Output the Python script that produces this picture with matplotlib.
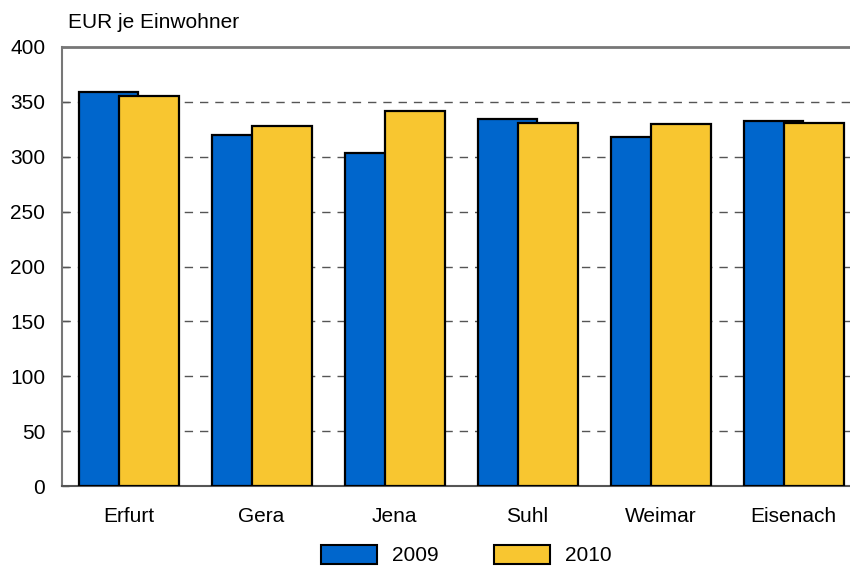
import matplotlib
matplotlib.use("Agg")
import matplotlib.pyplot as plt
import numpy as np
from matplotlib.patches import Patch

plt.rcParams['font.family'] = ['Liberation Sans', 'DejaVu Sans']

cities = ["Erfurt", "Gera", "Jena", "Suhl", "Weimar", "Eisenach"]
v2009 = [359, 320, 303, 334, 318, 333]
v2010 = [355, 328, 342, 331, 330, 331]
years = ["2009", "2010"]
yticks = [0, 50, 100, 150, 200, 250, 300, 350, 400]

c_blue = "#0066CC"
c_yellow = "#F8C630"
fs = 15

fig = plt.figure(figsize=(8.5, 5.67), dpi=100)
ax = fig.add_axes([62/850, 1-486/567, 798/850, (486-47)/567])

x = np.arange(len(cities))
w = 0.45
ax.bar(x - 0.15, v2009, width=w, color=c_blue, edgecolor="black", linewidth=1.6, zorder=3)
ax.bar(x + 0.155, v2010, width=w, color=c_yellow, edgecolor="black", linewidth=1.6, zorder=4)

ax.set_xlim(-0.5, len(cities) - 0.5)
ax.set_ylim(0, 400)
ax.set_yticks(yticks)
ax.set_yticklabels([str(t) for t in yticks], fontsize=fs)
ax.set_xticks(x)
ax.set_xticklabels(cities, fontsize=fs)
ax.tick_params(axis='x', length=0, pad=15)
ax.tick_params(axis='y', direction='in', length=5, width=1, color="#555555", pad=12)

for t in yticks[1:-1]:
    ax.axhline(t, color="#555555", linestyle=(0, (6, 5)), linewidth=1, zorder=1)

for s in ["left", "top", "right", "bottom"]:
    ax.spines[s].set_color("#777777")
ax.spines["left"].set_linewidth(1.5)
ax.spines["top"].set_linewidth(2)
ax.spines["bottom"].set_linewidth(1.5)
ax.spines["bottom"].set_color("#555555")

fig.text(68/850, 1-23/567, "EUR je Einwohner", fontsize=fs, va="center", ha="left")

handles = [Patch(facecolor=c_blue, edgecolor="black", linewidth=1.5),
           Patch(facecolor=c_yellow, edgecolor="black", linewidth=1.5)]
fig.legend(handles, years, loc="center", bbox_to_anchor=(466/850, 1-555/567), ncol=2,
           frameon=False, fontsize=fs, handlelength=2.7, handleheight=1.05,
           columnspacing=2.64, handletextpad=0.72, borderpad=0.1)

fig.savefig("out.png", dpi=100)
